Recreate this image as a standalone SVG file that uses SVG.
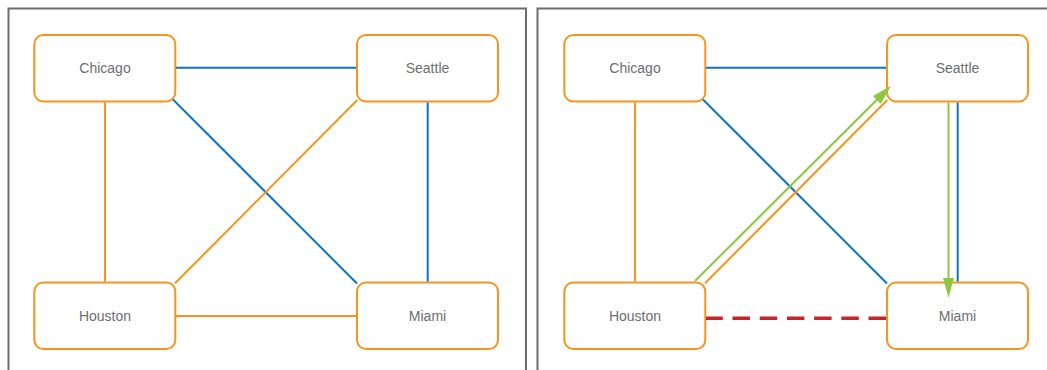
<svg xmlns="http://www.w3.org/2000/svg" width="1047" height="370" viewBox="0 0 1047 370">
  <style>
    .panel { fill: #ffffff; stroke: #6d6e71; stroke-width: 2; }
    .node rect { fill: #ffffff; stroke: #f7941d; stroke-width: 2; }
    .node text { font-family: "Liberation Sans", Arial, sans-serif; font-size: 14px; fill: #6d6e71; text-anchor: middle; }
    .blue { stroke: #0f75bc; stroke-width: 2; fill: none; }
    .orange { stroke: #f7941d; stroke-width: 2; fill: none; }
    .green { stroke: #8dc63f; stroke-width: 2; fill: none; marker-end: url(#arrow); }
    .cut { stroke: #c1272d; stroke-width: 3.5; fill: none; stroke-dasharray: 17.5 9.7; }
  </style>
  <defs>
    <marker id="arrow" markerUnits="userSpaceOnUse" markerWidth="20" markerHeight="11" refX="10" refY="5.5" orient="auto" viewBox="0 0 20 11">
      <path d="M0,0 L20,5.5 L0,11 z" fill="#8dc63f"/>
    </marker>
  </defs>

  <rect width="1047" height="370" fill="#ffffff"/>

  <!-- two panels -->
  <rect class="panel" x="8.5" y="8.5" width="517.5" height="400"/>
  <rect class="panel" x="537.5" y="8.5" width="600" height="400"/>

  <!-- left panel nodes -->
  <g id="chicago-a" class="node">
    <rect x="34.3" y="35" width="141" height="66.5" rx="9"/>
    <text x="105" y="73">Chicago</text>
  </g>
  <g id="seattle-a" class="node">
    <rect x="357" y="35" width="141" height="66.5" rx="9"/>
    <text x="427.5" y="73">Seattle</text>
  </g>
  <g id="houston-a" class="node">
    <rect x="34.3" y="282.5" width="141" height="66.5" rx="9"/>
    <text x="105" y="321">Houston</text>
  </g>
  <g id="miami-a" class="node">
    <rect x="357" y="282.5" width="141" height="66.5" rx="9"/>
    <text x="427.5" y="321">Miami</text>
  </g>

  <!-- right panel nodes -->
  <g id="chicago-b" class="node">
    <rect x="564.3" y="35" width="141" height="66.5" rx="9"/>
    <text x="635" y="73">Chicago</text>
  </g>
  <g id="seattle-b" class="node">
    <rect x="887" y="35" width="141" height="66.5" rx="9"/>
    <text x="957.5" y="73">Seattle</text>
  </g>
  <g id="houston-b" class="node">
    <rect x="564.3" y="282.5" width="141" height="66.5" rx="9"/>
    <text x="635" y="321">Houston</text>
  </g>
  <g id="miami-b" class="node">
    <rect x="887" y="282.5" width="141" height="66.5" rx="9"/>
    <text x="957.5" y="321">Miami</text>
  </g>

  <!-- connectors, drawn over the node boxes so arrowheads stay visible -->
  <g id="connectors">
    <!-- left panel: full graph -->
    <line class="blue" x1="176" y1="67.7" x2="356" y2="67.7"/>
    <line class="orange" x1="105" y1="102.5" x2="105" y2="281.5"/>
    <line class="blue" x1="173" y1="99.5" x2="357" y2="283.5"/>
    <line class="orange" x1="175" y1="283.3" x2="357.3" y2="100"/>
    <line class="blue" x1="427.7" y1="102.5" x2="427.7" y2="281.5"/>
    <line class="orange" x1="176" y1="316" x2="356" y2="316"/>

    <!-- right panel: graph with cut edge and rerouted path -->
    <line class="blue" x1="706" y1="67.7" x2="886" y2="67.7"/>
    <line class="orange" x1="635" y1="102.5" x2="635" y2="281.5"/>
    <line class="blue" x1="703" y1="99.5" x2="887" y2="283.5"/>
    <line class="orange" x1="705" y1="283.3" x2="887.3" y2="100"/>
    <line class="blue" x1="957.7" y1="102.5" x2="957.7" y2="281.5"/>
    <line class="cut" x1="886" y1="318.3" x2="706" y2="318.3"/>
    <line class="green" x1="695" y1="281" x2="883.9" y2="92.8"/>
    <line class="green" x1="948.5" y1="102.5" x2="948.5" y2="287.7"/>
  </g>
</svg>
